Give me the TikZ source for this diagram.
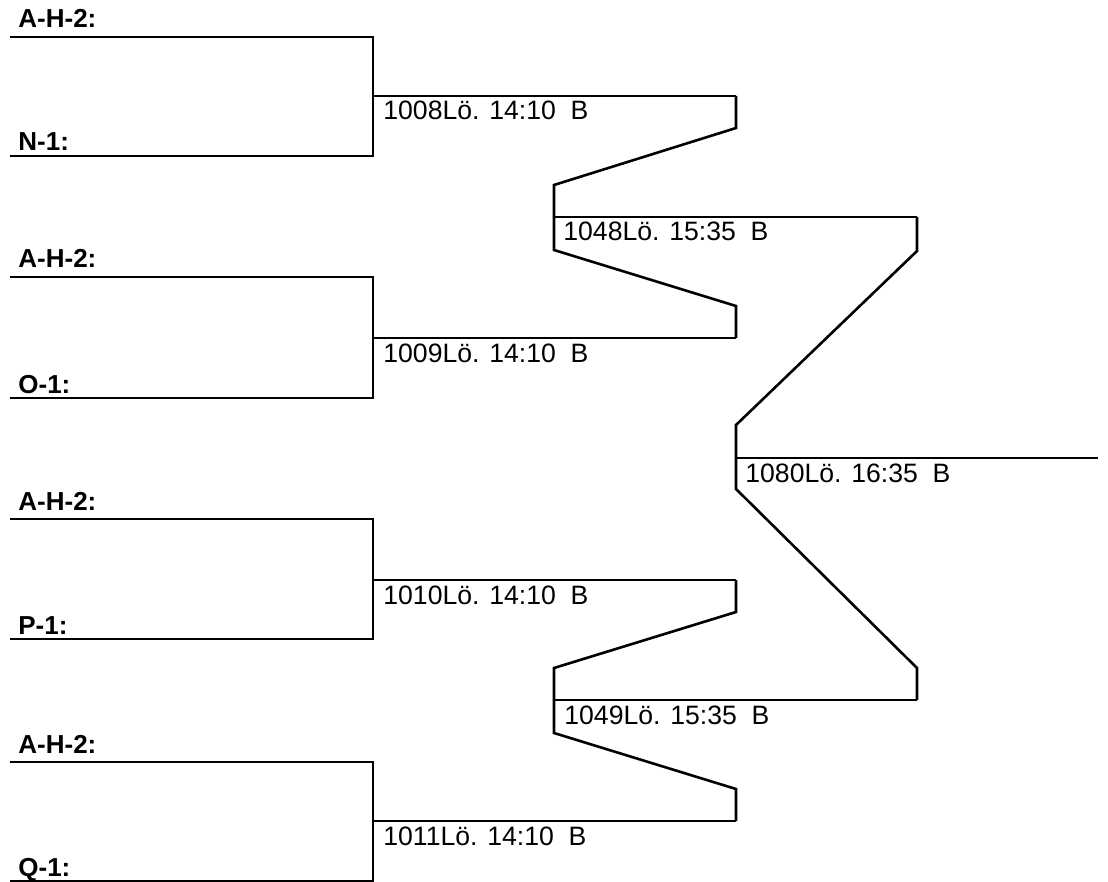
\documentclass[tikz,border=0pt]{standalone}
\usepackage{fontspec}
\setmainfont{Liberation Sans}
\begin{document}
\begin{tikzpicture}[x=0.5pt,y=-0.5pt,
  line/.style={draw=black,line width=1.3pt,line join=miter},
  team/.style={anchor=base west,inner sep=0pt,font=\fontsize{13}{15}\selectfont\bfseries},
  game/.style={anchor=base west,inner sep=0pt,font=\fontsize{13.3}{15}\selectfont}]
\useasboundingbox (0,0) rectangle (1108,882);
% round 1 brackets
\foreach \n/\t/\b/\m/\lt/\lb/\g in {a/37/156/96/A-H-2:/N-1:/1008, b/277/398/338/A-H-2:/O-1:/1009, c/519/639/580/A-H-2:/P-1:/1010, d/762/881/821/A-H-2:/Q-1:/1011}{
  \coordinate (\n-tl) at (10,\t);
  \coordinate (\n-tr) at (373,\t);
  \coordinate (\n-bl) at (10,\b);
  \coordinate (\n-br) at (373,\b);
  \coordinate (\n-ml) at (373,\m);
  \coordinate (\n-mr) at (736,\m);
  \node[team] (\n-top) at (18,\t-9) {\lt};
  \node[team] (\n-bot) at (18,\b-5) {\lb};
  \node[game] (\n-game) at (383,\m+24) {\g Lö. 14:10\ \ B};
  \draw[line] (\n-tl) -- (\n-tr) -- (\n-br) -- (\n-bl);
  \draw[line] (\n-ml) -- (\n-mr);
}
% round 2
\coordinate (e-l) at (554,217); \coordinate (e-r) at (917,217);
\coordinate (f-l) at (554,700); \coordinate (f-r) at (917,700);
\node[game] (e-game) at (563,241) {1048Lö. 15:35\ \ B};
\node[game] (f-game) at (564,724) {1049Lö. 15:35\ \ B};
\draw[line] (e-l) -- (e-r);
\draw[line] (f-l) -- (f-r);
\coordinate (a1) at (736,128); \coordinate (a2) at (554,185);
\coordinate (b1) at (736,306); \coordinate (b2) at (554,250);
\coordinate (c1) at (736,612); \coordinate (c2) at (554,668);
\coordinate (d1) at (736,789); \coordinate (d2) at (554,733);
\draw[line] (a-mr) -- (a1) -- (a2) -- (e-l);
\draw[line] (b-mr) -- (b1) -- (b2) -- (e-l);
\draw[line] (c-mr) -- (c1) -- (c2) -- (f-l);
\draw[line] (d-mr) -- (d1) -- (d2) -- (f-l);
% final
\coordinate (g-l) at (736,458); \coordinate (g-r) at (1098,458);
\node[game] (g-game) at (745,482) {1080Lö. 16:35\ \ B};
\draw[line] (g-l) -- (g-r);
\coordinate (e1) at (917,251); \coordinate (e2) at (736,425);
\coordinate (f1) at (917,668); \coordinate (f2) at (736,489);
\draw[line] (e-r) -- (e1) -- (e2) -- (g-l);
\draw[line] (f-r) -- (f1) -- (f2) -- (g-l);
\end{tikzpicture}
\end{document}
